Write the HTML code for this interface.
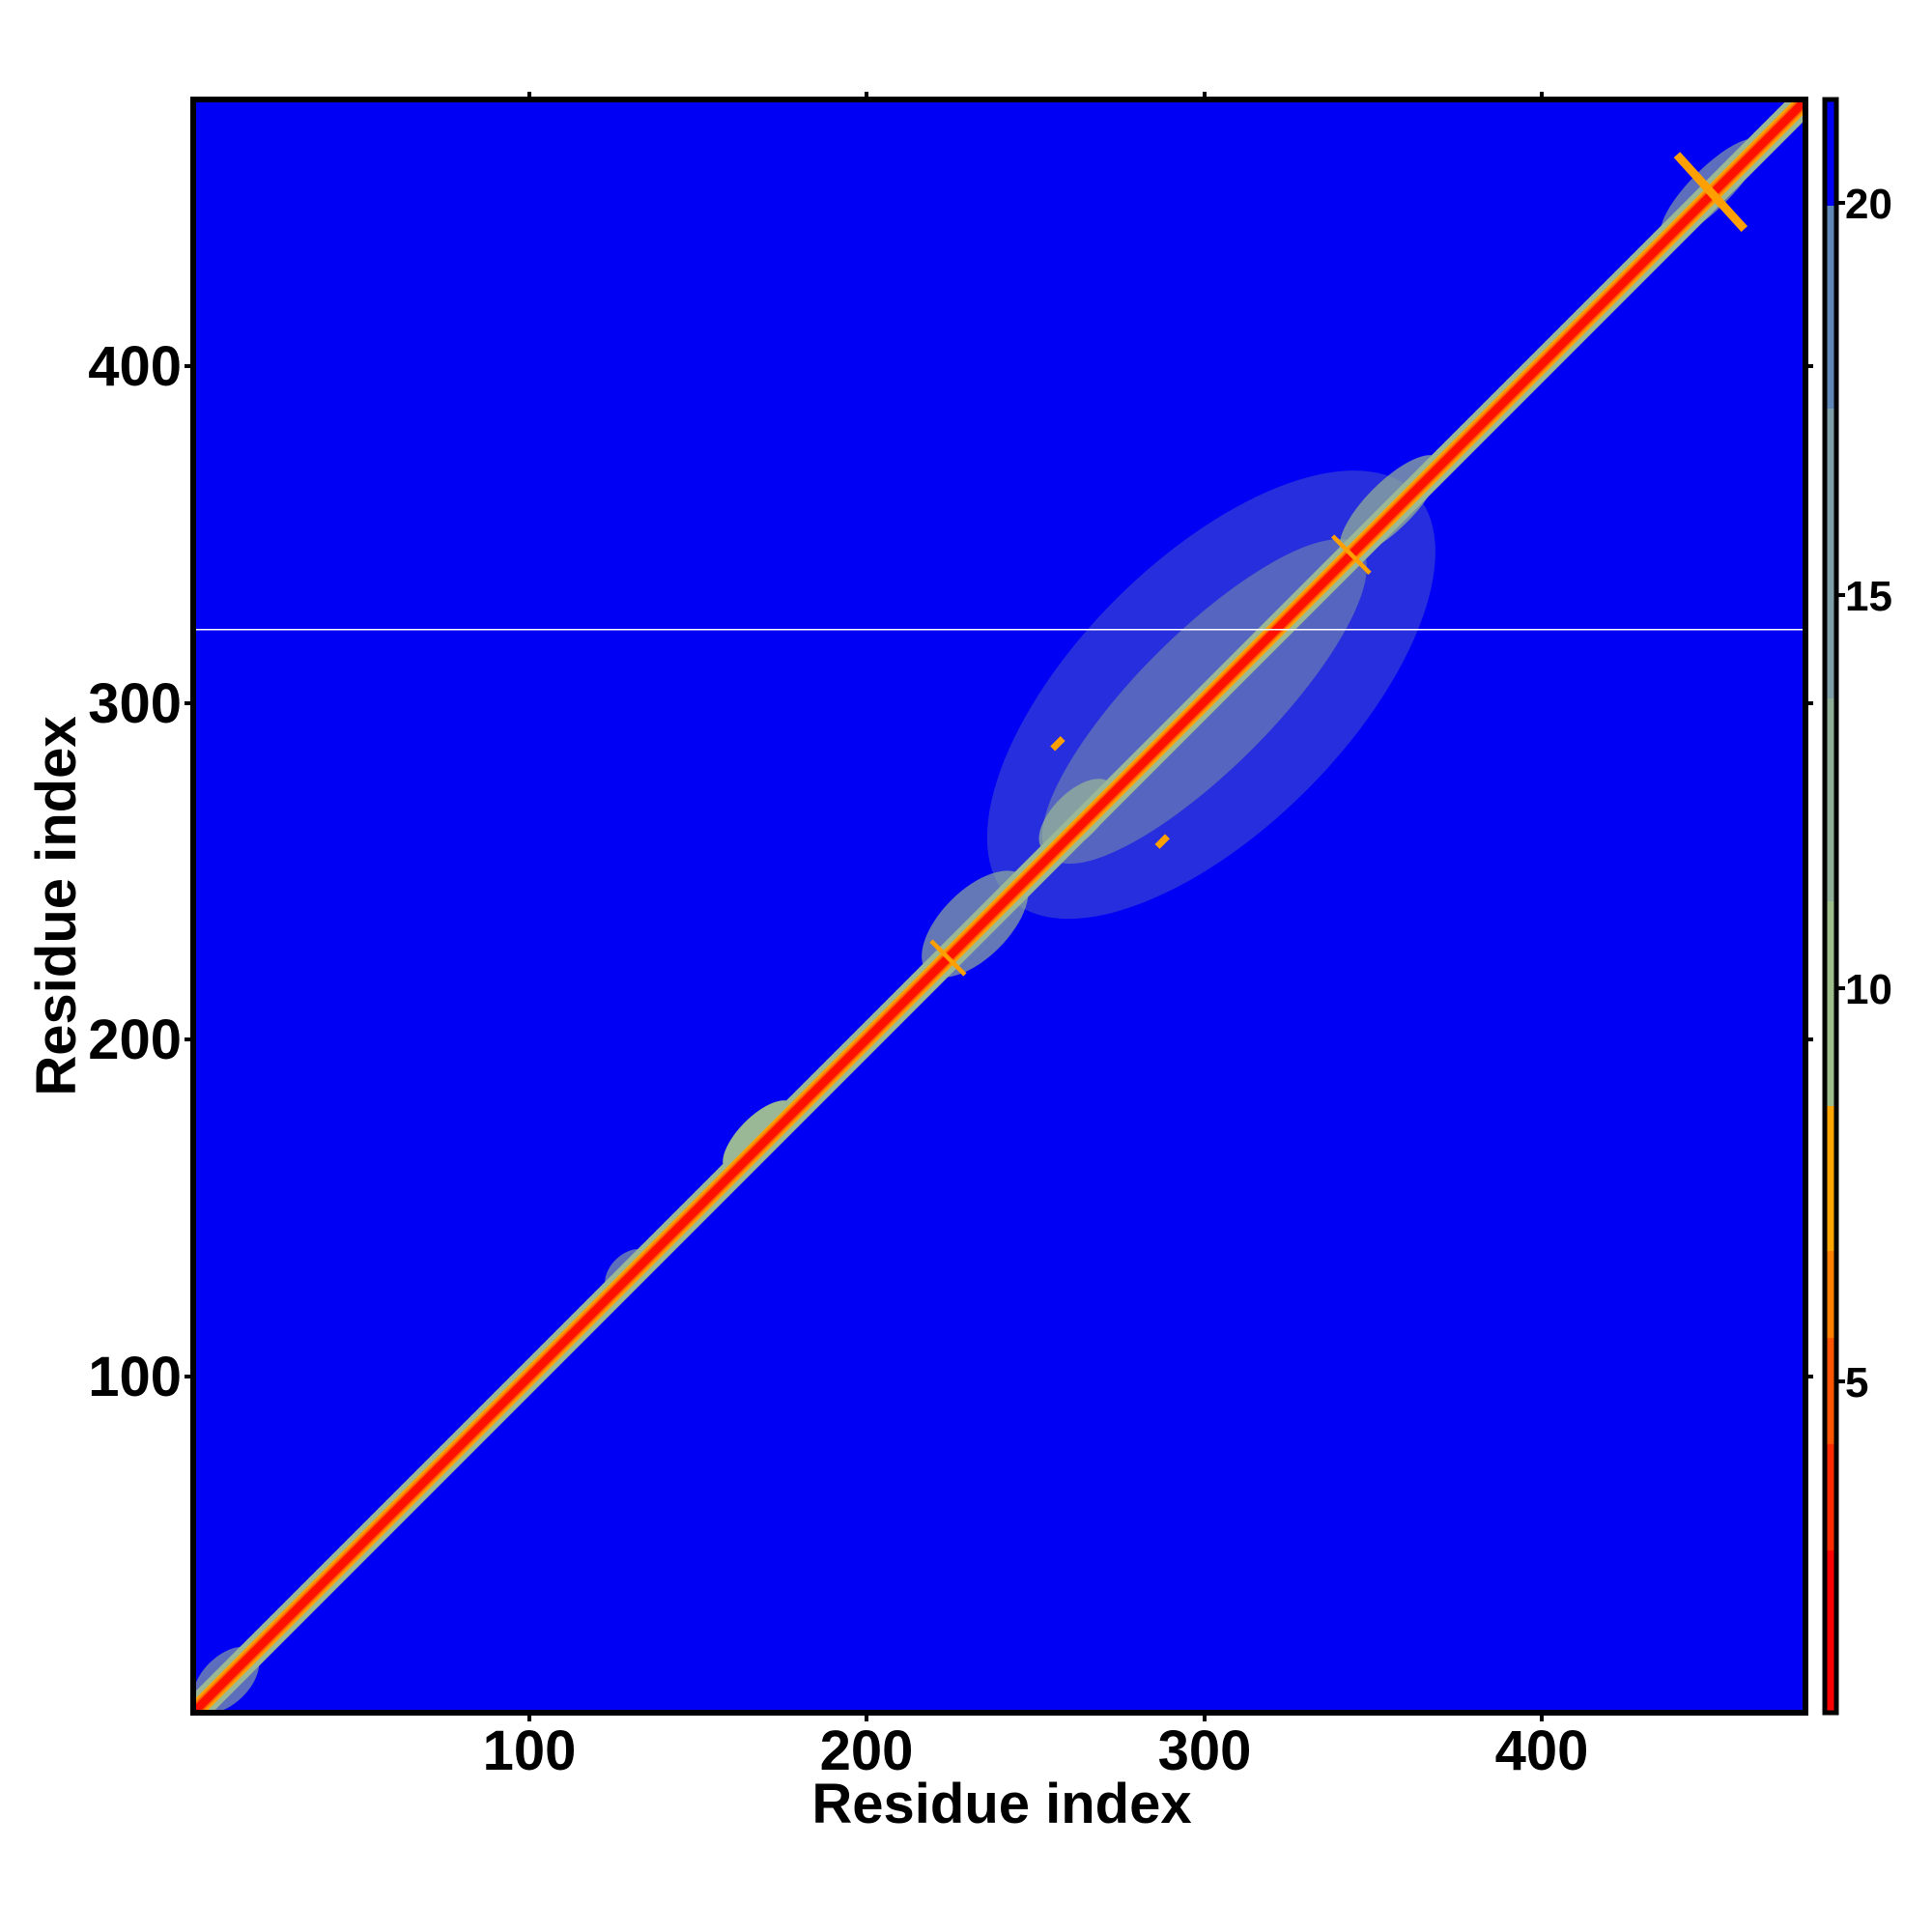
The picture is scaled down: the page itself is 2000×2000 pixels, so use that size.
<!DOCTYPE html>
<html><head><meta charset="utf-8"><style>
html,body{margin:0;padding:0;background:#fff;}
svg{display:block;}
text{font-family:"Liberation Sans",Arial,sans-serif;font-weight:bold;fill:#000;}
</style></head><body>
<svg width="2000" height="2000" viewBox="0 0 2000 2000" xmlns="http://www.w3.org/2000/svg">
<defs><clipPath id="c"><rect x="200" y="103" width="1669" height="1670"/></clipPath></defs>
<rect x="200" y="103" width="1669" height="1670" fill="#0000f5"/>
<g clip-path="url(#c)">
<g transform="translate(199,1774) scale(3.493,-3.493)">
<ellipse cx="302" cy="302" rx="85" ry="40" transform="rotate(45 302 302)" fill="#9ab896" opacity="0.25"/>
<ellipse cx="300" cy="300" rx="65" ry="20" transform="rotate(45 300 300)" fill="#9ab896" opacity="0.4"/>
<ellipse cx="232" cy="234" rx="20" ry="10" transform="rotate(45 232 234)" fill="#9ab896" opacity="0.65"/>
<ellipse cx="262" cy="266" rx="14" ry="7" transform="rotate(45 262 266)" fill="#9ab896" opacity="0.7"/>
<ellipse cx="355" cy="358" rx="20" ry="7" transform="rotate(45 355 358)" fill="#9ab896" opacity="0.7"/>
<ellipse cx="168" cy="171" rx="14" ry="6" transform="rotate(45 168 171)" fill="#9ab896"/>
<ellipse cx="129" cy="131" rx="8" ry="5" transform="rotate(45 129 131)" fill="#9ab896" opacity="0.6"/>
<ellipse cx="10" cy="10" rx="12" ry="7" transform="rotate(45 10 10)" fill="#9ab896" opacity="0.6"/>
<ellipse cx="450" cy="452" rx="20" ry="6" transform="rotate(45 450 452)" fill="#9ab896" opacity="0.6"/>
<line x1="-5" y1="-5" x2="485" y2="485" stroke="#9ab896" stroke-width="8"/>
<line x1="-5" y1="-5" x2="485" y2="485" stroke="#ffa000" stroke-width="5"/>
<line x1="-5" y1="-5" x2="485" y2="485" stroke="#ff6a00" stroke-width="3.6"/>
<line x1="-5" y1="-5" x2="485" y2="485" stroke="#ff1000" stroke-width="2.5"/>
<line x1="440" y1="462" x2="460" y2="440" stroke="#ffa000" stroke-width="2.5"/>
<line x1="338" y1="349" x2="349" y2="338" stroke="#ffa000" stroke-width="1.3"/>
<line x1="219" y1="229" x2="229" y2="219" stroke="#ffa000" stroke-width="1.3"/>
<line x1="255" y1="286" x2="258" y2="289" stroke="#ffa000" stroke-width="2"/>
<line x1="286" y1="257" x2="289" y2="260" stroke="#ffa000" stroke-width="2"/>
</g>
<rect x="200" y="651" width="1669" height="1.5" fill="#fff"/>
</g>
<rect x="200" y="103" width="1669" height="1670" fill="none" stroke="#000" stroke-width="6"/>
<g stroke="#000" stroke-width="4">
<line x1="548" y1="1773" x2="548" y2="1782"/><line x1="897" y1="1773" x2="897" y2="1782"/><line x1="1247" y1="1773" x2="1247" y2="1782"/><line x1="1596" y1="1773" x2="1596" y2="1782"/>
<line x1="548" y1="103" x2="548" y2="95"/><line x1="897" y1="103" x2="897" y2="95"/><line x1="1247" y1="103" x2="1247" y2="95"/><line x1="1596" y1="103" x2="1596" y2="95"/>
<line x1="200" y1="379" x2="191" y2="379"/><line x1="200" y1="728" x2="191" y2="728"/><line x1="200" y1="1076" x2="191" y2="1076"/><line x1="200" y1="1425" x2="191" y2="1425"/>
<line x1="1869" y1="379" x2="1877" y2="379"/><line x1="1869" y1="728" x2="1877" y2="728"/><line x1="1869" y1="1076" x2="1877" y2="1076"/><line x1="1869" y1="1425" x2="1877" y2="1425"/>
</g>
<g font-size="58" text-anchor="middle">
<text x="548" y="1832">100</text><text x="897" y="1832">200</text><text x="1247" y="1832">300</text><text x="1596" y="1832">400</text>
</g>
<g font-size="58" text-anchor="end">
<text x="188" y="399">400</text><text x="188" y="748">300</text><text x="188" y="1096">200</text><text x="188" y="1445">100</text>
</g>
<text x="1037" y="1887" font-size="58" text-anchor="middle">Residue index</text>
<text transform="translate(78,938) rotate(-90)" font-size="58" text-anchor="middle">Residue index</text>
<rect x="1889" y="103" width="12" height="110" fill="#0000f5"/>
<rect x="1889" y="213" width="12" height="210" fill="#5f87b8"/>
<rect x="1889" y="423" width="12" height="300" fill="#7f9fa8"/>
<rect x="1889" y="723" width="12" height="210" fill="#8fae98"/>
<rect x="1889" y="933" width="12" height="212" fill="#9dbd8a"/>
<rect x="1889" y="1145" width="12" height="150" fill="#ffa500"/>
<rect x="1889" y="1295" width="12" height="90" fill="#ff8000"/>
<rect x="1889" y="1385" width="12" height="110" fill="#ff5500"/>
<rect x="1889" y="1495" width="12" height="110" fill="#ff2a00"/>
<rect x="1889" y="1605" width="12" height="168" fill="#ff0000"/>
<rect x="1889" y="103" width="12" height="1670" fill="none" stroke="#000" stroke-width="5"/>
<g stroke="#000" stroke-width="4">
<line x1="1901" y1="210" x2="1910" y2="210"/><line x1="1901" y1="616" x2="1910" y2="616"/><line x1="1901" y1="1023" x2="1910" y2="1023"/><line x1="1901" y1="1430" x2="1910" y2="1430"/>
</g>
<g font-size="44">
<text x="1910" y="226">20</text><text x="1910" y="632">15</text><text x="1910" y="1039">10</text><text x="1910" y="1446">5</text>
</g>
</svg>
</body></html>
